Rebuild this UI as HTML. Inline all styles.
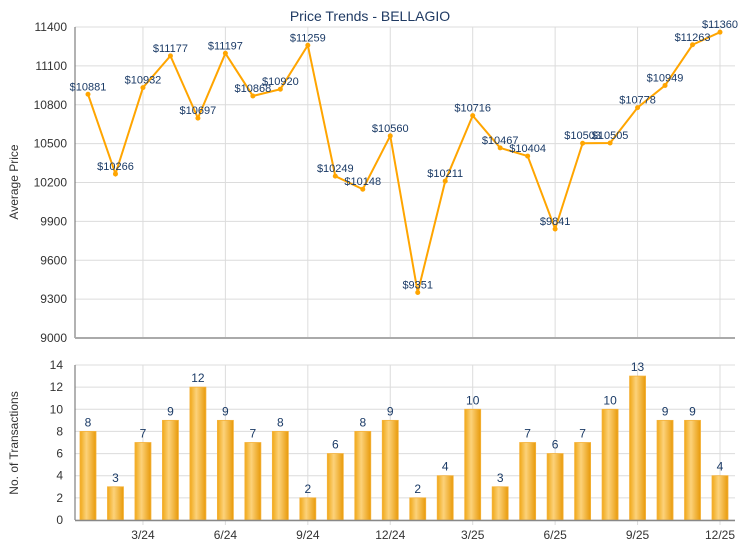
<!DOCTYPE html>
<html><head><meta charset="utf-8"><style>
body{margin:0;background:#fff;font-family:"Liberation Sans",Arial,sans-serif}
</style></head><body>
<svg width="740" height="550" xmlns="http://www.w3.org/2000/svg" font-family="Liberation Sans, Arial, sans-serif">
<defs>
<linearGradient id="bg" x1="0" x2="1" y1="0" y2="0">
<stop offset="0" stop-color="#f0a818"/><stop offset="0.4" stop-color="#fcd27a"/><stop offset="1" stop-color="#e89a0a"/>
</linearGradient>
</defs>
<text x="370" y="21" text-anchor="middle" font-size="14" fill="#1f3a63">Price Trends - BELLAGIO</text>
<g id="topPanel"></g>
<g id="botPanel"></g>
</svg>
<script>
const months=['1/24','2/24','3/24','4/24','5/24','6/24','7/24','8/24','9/24','10/24','11/24','12/24','1/25','2/25','3/25','4/25','5/25','6/25','7/25','8/25','9/25','10/25','11/25','12/25'];
const prices=[10881,10266,10932,11177,10697,11197,10868,10920,11259,10249,10148,10560,9351,10211,10716,10467,10404,9841,10503,10505,10778,10949,11263,11360];
const counts=[8,3,7,9,12,9,7,8,2,6,8,9,2,4,10,3,7,6,7,10,13,9,9,4];
const priceTicks=[9000,9300,9600,9900,10200,10500,10800,11100,11400];
const countTicks=[0,2,4,6,8,10,12,14];
const xTickLabels=['3/24','6/24','9/24','12/24','3/25','6/25','9/25','12/25'];

const NS='http://www.w3.org/2000/svg';
const L=75,R=735;
const x=i=>88+i*(720-88)/(months.length-1);
const yP=v=>338-(v-9000)/2400*311;
const yC=v=>520-v/14*155;
function mk(p,t,a){const e=document.createElementNS(NS,t);for(const k in a)e.setAttribute(k,a[k]);p.appendChild(e);return e;}
const topG=document.getElementById('topPanel'),botG=document.getElementById('botPanel');

priceTicks.forEach(v=>{
 const l=mk(topG,'line',{x1:L,x2:R,y1:yP(v),y2:yP(v),stroke:'#dcdcdc','stroke-width':1});
 
 
 const t=mk(topG,'text',{x:L-8,y:yP(v)+4,'text-anchor':'end','font-size':12,fill:'#333'});
 t.textContent=v;
 
 
});
xTickLabels.forEach(lb=>{
 const i=months.indexOf(lb);
 const l1=mk(topG,'line',{x1:x(i),x2:x(i),y1:27,y2:338,stroke:'#dcdcdc'});
 
 
 const l2=mk(botG,'line',{x1:x(i),x2:x(i),y1:365,y2:525,stroke:'#dcdcdc'});
 
 
 const t=mk(botG,'text',{x:x(i),y:539,'text-anchor':'middle','font-size':12,fill:'#333'});
 t.textContent=lb;
 
 
});
let a=mk(topG,'line',{x1:L,x2:L,y1:27,y2:338,stroke:'#666'});


a=mk(topG,'line',{x1:L,x2:R,y1:338,y2:338,stroke:'#aaa','stroke-width':2});


let yt=mk(topG,'text',{x:18,y:182,'text-anchor':'middle','font-size':12,fill:'#333',transform:'rotate(-90 18 182)'});
yt.textContent='Average Price';


const pl=mk(topG,'polyline',{points:prices.map((v,i)=>x(i)+','+yP(v)).join(' '),fill:'none',stroke:'#ffa500','stroke-width':2});


prices.forEach((v,i)=>{
 const c=mk(topG,'circle',{cx:x(i),cy:yP(v),r:2.5,fill:'#ffa500'});
 
 
 const t=mk(topG,'text',{x:x(i),y:yP(v)-4,'text-anchor':'middle','font-size':11,fill:'#1a3a66'});
 t.textContent='$'+v;
 
 
});

countTicks.forEach(v=>{
 const l=mk(botG,'line',{x1:L,x2:R,y1:yC(v),y2:yC(v),stroke:'#dcdcdc'});
 
 
 const t=mk(botG,'text',{x:L-12,y:yC(v)+4,'text-anchor':'end','font-size':12,fill:'#333'});
 t.textContent=v;
 
 
});
counts.forEach((v,i)=>{
 const r=mk(botG,'rect',{x:x(i)-8,y:yC(v),width:16,height:520-yC(v),fill:'url(#bg)',stroke:'#f5b23a','stroke-width':0.8});
 
 
 const t=mk(botG,'text',{x:x(i),y:yC(v)-5,'text-anchor':'middle','font-size':12,fill:'#1a3a66'});
 t.textContent=v;
 
 
});
a=mk(botG,'line',{x1:L,x2:L,y1:365,y2:520,stroke:'#666'});


a=mk(botG,'line',{x1:L,x2:R,y1:520.5,y2:520.5,stroke:'#888','stroke-width':1.5});


yt=mk(botG,'text',{x:18,y:443,'text-anchor':'middle','font-size':12,fill:'#333',transform:'rotate(-90 18 443)'});
yt.textContent='No. of Transactions';


</script>
</body></html>
